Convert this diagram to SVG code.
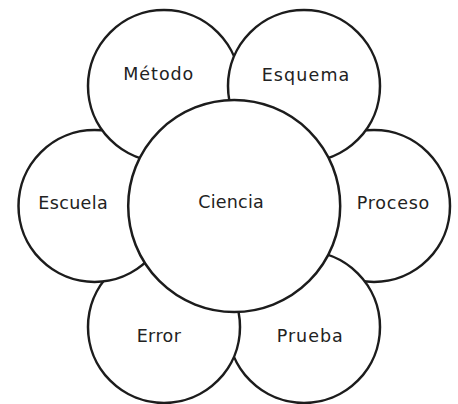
<svg xmlns="http://www.w3.org/2000/svg" width="458" height="404" viewBox="0 0 458 404">
<style>
.c{fill:#ffffff;stroke:#1c1c1c;stroke-width:2.5}
.t{font-family:"DejaVu Sans","Open Sans",sans-serif;font-size:17.5px;fill:#222222;text-anchor:middle}
</style>
<rect width="458" height="404" fill="#ffffff"/>
<g id="proceso"><circle class="c" cx="374" cy="206" r="76"/><text class="t" x="393" y="208.5" textLength="72.6" lengthAdjust="spacing">Proceso</text></g>
<g id="prueba"><circle class="c" cx="304" cy="327" r="76"/><text class="t" x="309.7" y="341.7" textLength="66" lengthAdjust="spacing">Prueba</text></g>
<g id="error"><circle class="c" cx="164" cy="327" r="76"/><text class="t" x="158.8" y="341.7" textLength="44.3" lengthAdjust="spacing">Error</text></g>
<g id="escuela"><circle class="c" cx="94.5" cy="206" r="76"/><text class="t" x="73" y="208.5" textLength="69.4" lengthAdjust="spacing">Escuela</text></g>
<g id="metodo"><circle class="c" cx="164" cy="86" r="76"/><text class="t" x="158.3" y="80" textLength="70" lengthAdjust="spacing">Método</text></g>
<g id="esquema"><circle class="c" cx="304" cy="86" r="76"/><text class="t" x="305.5" y="81" textLength="87.6" lengthAdjust="spacing">Esquema</text></g>
<g id="ciencia"><circle class="c" cx="234.2" cy="206" r="106"/><text class="t" x="231" y="207.7" textLength="65.7" lengthAdjust="spacing">Ciencia</text></g>
<g id="connectors"/>
</svg>
